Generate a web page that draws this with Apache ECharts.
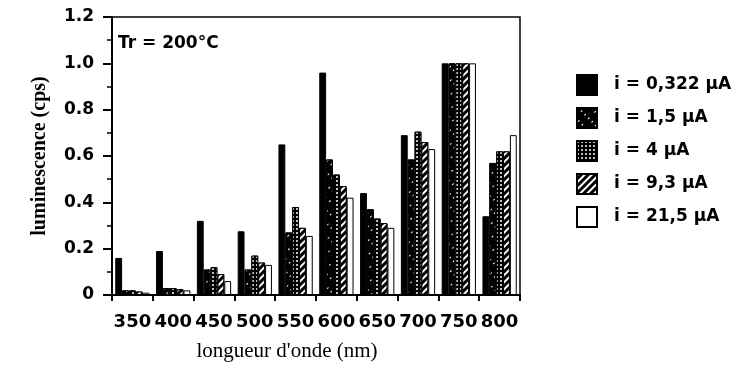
<!DOCTYPE html>
<html>
<head>
<meta charset="utf-8">
<script src="https://cdn.jsdelivr.net/npm/echarts@6/dist/echarts.min.js"></script>
<style>
  html, body { margin: 0; padding: 0; background: #fff; }
  #chart { width: 739px; height: 379px; }
</style>
</head>
<body>
<div id="chart"></div>
<script>
'use strict';
/* luminescence vs wavelength, Tr = 200°C */

var wavelengths = ['350', '400', '450', '500', '550', '600', '650', '700', '750', '800'];
var seriesNames = ['i = 0,322 µA', 'i = 1,5 µA', 'i = 4 µA', 'i = 9,3 µA', 'i = 21,5 µA'];

var i0322 = [0.16, 0.19, 0.32, 0.275, 0.65, 0.96, 0.44, 0.69, 1.0, 0.34];
var i15 = [0.02, 0.03, 0.11, 0.11, 0.27, 0.585, 0.37, 0.585, 1.0, 0.57];
var i4 = [0.02, 0.03, 0.12, 0.17, 0.38, 0.52, 0.33, 0.705, 1.0, 0.62];
var i93 = [0.015, 0.025, 0.09, 0.14, 0.29, 0.47, 0.31, 0.66, 1.0, 0.62];
var i215 = [0.01, 0.02, 0.06, 0.13, 0.255, 0.42, 0.29, 0.63, 1.0, 0.69];

var yTicks = [0, 0.2, 0.4, 0.6, 0.8, 1.0, 1.2];

// hatch patterns, as in the original black & white print
var decals = [
  null,
  { symbol: 'rect', color: '#fff', dashArrayX: [[2, 7]], dashArrayY: [1, 4], rotation: -Math.PI / 4 },
  { symbol: 'circle', color: '#fff', dashArrayX: [1.5, 1.5], dashArrayY: [1.5, 1.5], rotation: 0 },
  { symbol: 'rect', color: '#fff', dashArrayX: [1, 0], dashArrayY: [2, 3], rotation: -Math.PI / 4 },
  null
];
var fills = ['#000', '#000', '#000', '#000', '#fff'];
var datas = [i0322, i15, i4, i93, i215];

var series = [];
for (var i = 0; i < datas.length; i++) {
  var style = {
    color: fills[i],
    borderColor: '#000',
    borderWidth: 1
  };
  if (decals[i]) {
    style.decal = decals[i];
  }
  series.push({
    name: seriesNames[i],
    type: 'bar',
    data: datas[i],
    barGap: '0%',
    barCategoryGap: '16%',
    itemStyle: style
  });
}

var chart = echarts.init(document.getElementById('chart'));
var opt = {
  animation: false,
  grid: {
    left: 112,
    right: 219,
    top: 17,
    bottom: 84,
    show: true,
    borderColor: '#000',
    borderWidth: 1.5
  },
  legend: {
    orient: 'vertical',
    left: 571,
    top: 69,
    icon: 'rect',
    itemWidth: 20,
    itemHeight: 20,
    itemGap: 11,
    data: seriesNames,
    textStyle: {
      fontFamily: 'DejaVu Sans',
      fontWeight: 'bold',
      fontSize: 17,
      color: '#000',
      padding: [0, 0, 0, 12]
    }
  },
  graphic: [{
    type: 'text',
    left: 118,
    top: 35,
    style: {
      text: 'Tr = 200°C',
      font: 'bold 17px "DejaVu Sans"',
      fill: '#000'
    }
  }],
  xAxis: [{
    type: 'category',
    data: wavelengths,
    name: "longueur d'onde (nm)",
    nameLocation: 'middle',
    nameGap: 46,
    nameTextStyle: {
      fontFamily: 'Liberation Serif',
      fontSize: 21,
      color: '#000',
      padding: [0, 58, 0, 0]
    },
    axisLine: { lineStyle: { color: '#000', width: 2 } },
    axisTick: { show: true, length: 6, lineStyle: { color: '#000', width: 2 } },
    axisLabel: {
      interval: 0,
      margin: 18,
      fontFamily: 'DejaVu Sans',
      fontWeight: 'bold',
      fontSize: 18,
      color: '#000'
    }
  }],
  yAxis: [{
    type: 'value',
    min: yTicks[0],
    max: yTicks[yTicks.length - 1],
    interval: 0.2,
    name: 'luminescence (cps)',
    nameLocation: 'middle',
    nameGap: 62,
    nameTextStyle: {
      fontFamily: 'Liberation Serif',
      fontWeight: 'bold',
      fontSize: 20,
      color: '#000'
    },
    splitLine: { show: false },
    axisLine: { show: true, lineStyle: { color: '#000', width: 2 } },
    axisTick: { show: true, length: 9, lineStyle: { color: '#000', width: 2 } },
    minorTick: { show: true, splitNumber: 2, length: 5, lineStyle: { color: '#000', width: 1.5 } },
    axisLabel: {
      margin: 18,
      fontFamily: 'DejaVu Sans',
      fontWeight: 'bold',
      fontSize: 17,
      color: '#000',
      formatter: function(v) {
        return v === 0 ? '0' : v.toFixed(1);
      }
    }
  }],
  series: series
};

chart.setOption(opt);
</script>
</body>
</html>
